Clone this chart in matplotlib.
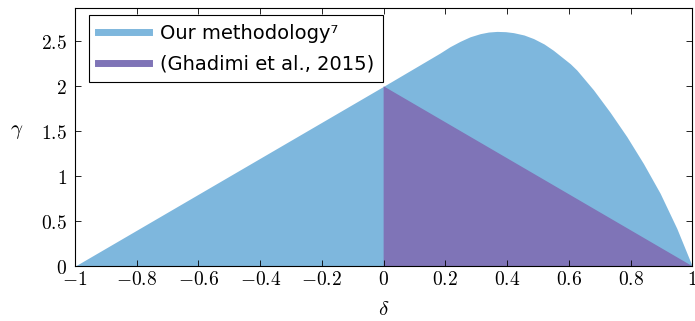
import matplotlib.pyplot as plt
from matplotlib.lines import Line2D

plt.rcParams['mathtext.fontset'] = 'cm'
plt.rcParams['font.family'] = 'DejaVu Sans'

# boundary of our methodology region
ours_x = [-1.0, 0.0, 0.183, 0.215, 0.248, 0.28, 0.313, 0.34, 0.367, 0.395, 0.421, 0.455,
          0.486, 0.52, 0.55, 0.572, 0.605, 0.626, 0.68, 0.734, 0.788, 0.842, 0.896, 0.95, 1.0]
ours_y = [0.0, 2.0, 2.37, 2.44, 2.50, 2.55, 2.585, 2.603, 2.61, 2.607, 2.596, 2.57,
          2.53, 2.47, 2.40, 2.34, 2.25, 2.18, 1.96, 1.71, 1.44, 1.14, 0.81, 0.42, 0.0]

# Ghadimi et al. region
ghad_x = [0.0, 0.0, 1.0]
ghad_y = [0.0, 2.0, 0.0]

xticks = [-1, -0.8, -0.6, -0.4, -0.2, 0, 0.2, 0.4, 0.6, 0.8, 1]
xlabels = ['$-1$', '$-0.8$', '$-0.6$', '$-0.4$', '$-0.2$', '$0$', '$0.2$', '$0.4$', '$0.6$', '$0.8$', '$1$']
yticks = [0, 0.5, 1, 1.5, 2, 2.5]
ylabels = ['$0$', '$0.5$', '$1$', '$1.5$', '$2$', '$2.5$']

blue = '#7eb7dd'
purple = '#7f74b7'

fig = plt.figure(figsize=(6.95, 3.21), dpi=100)
ax = fig.add_axes([0.108, 0.171, 0.888, 0.804])

ax.fill_between(ours_x, 0, ours_y, color=blue, lw=0)
ax.fill(ghad_x, ghad_y, color=purple, lw=0)

ax.set_xlim(-1, 1)
ax.set_ylim(0, 2.87)
ax.set_xticks(xticks)
ax.set_xticklabels(xlabels, fontsize=14)
ax.set_yticks(yticks)
ax.set_yticklabels(ylabels, fontsize=14)
ax.tick_params(direction='in', top=True, right=True, length=4, width=0.6)
ax.tick_params(axis='x', pad=3)
ax.tick_params(axis='y', pad=6)
for s in ax.spines.values():
    s.set_linewidth(0.8)

ax.set_xlabel(r'$\delta$', fontsize=15, labelpad=7)
ax.set_ylabel(r'$\gamma$', fontsize=15, rotation=0, va='center')
ax.yaxis.set_label_coords(-0.094, 0.525)

handles = [Line2D([], [], color=blue, lw=5), Line2D([], [], color=purple, lw=5)]
leg = ax.legend(handles, ['Our methodology\u2077', '(Ghadimi et al., 2015)'],
                loc='upper left', fontsize=14, frameon=True, fancybox=False,
                edgecolor='black', framealpha=1, borderpad=0.45, handlelength=2.6,
                handletextpad=0.6, labelspacing=0.6, borderaxespad=0,
                bbox_to_anchor=(0.023, 0.973))
leg.get_frame().set_linewidth(0.8)

plt.savefig('out.png', dpi=100)
